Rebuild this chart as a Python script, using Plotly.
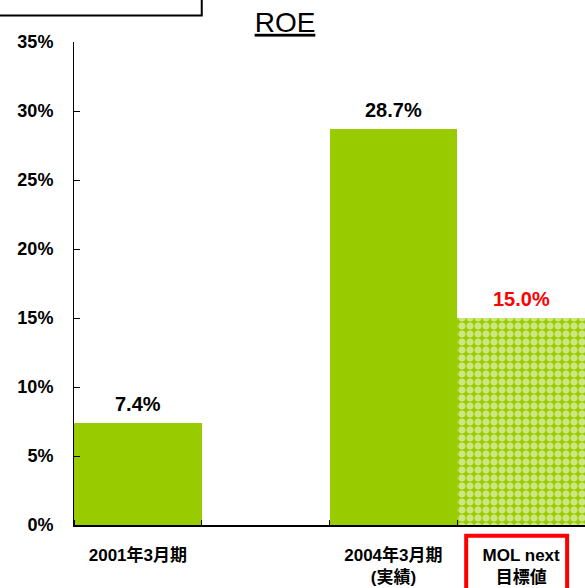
import plotly.graph_objects as go

# Data
categories = ["2001年3月期", "2004年3月期<br>(実績)", "MOL next<br>目標値"]
positions = [0, 2, 3]
roe_values = [7.4, 28.7, 15.0]
label_texts = ["7.4%", "28.7%", "15.0%"]
label_colors = ["black", "black", "#FF0000"]
pattern_shapes = ["", "", "."]
y_ticks = [0, 5, 10, 15, 20, 25, 30, 35]
y_tick_labels = ["0%", "5%", "10%", "15%", "20%", "25%", "30%", "35%"]

GREEN = "#99CC00"
FONT = "Liberation Sans, Arial, Noto Sans CJK JP, sans-serif"

fig = go.Figure()
fig.add_trace(go.Bar(
    x=positions, y=roe_values,
    marker=dict(
        color=GREEN,
        line=dict(width=0),
        pattern=dict(shape=pattern_shapes, fgcolor="white", bgcolor=GREEN,
                     size=8, solidity=0.6),
    ),
    width=1.0,
    hoverinfo="skip",
))

for x, v, t, c in zip(positions, roe_values, label_texts, label_colors):
    fig.add_annotation(x=x, y=v, text=t, showarrow=False, yanchor="bottom",
                       yshift=6, font=dict(family=FONT, size=20, color=c, weight="bold"))

# red box around target label
fig.add_shape(type="rect", xref="x", yref="paper", x0=2.57, x1=3.36,
              y0=-0.15, y1=-0.022, line=dict(color="#FF0000", width=4))
# partially visible box at top-left
fig.add_shape(type="rect", xref="paper", yref="paper", x0=-0.2, x1=0.25,
              y0=1.055, y1=1.2, line=dict(color="black", width=2))

fig.update_layout(
    width=585, height=588,
    margin=dict(l=74, r=0, t=42, b=63),
    plot_bgcolor="white", paper_bgcolor="white",
    showlegend=False, bargap=0,
    title=dict(text="<u>ROE</u>", x=285/585, xanchor="center", y=1 - 22/588,
               yanchor="middle", font=dict(family=FONT, size=28, color="black")),
    font=dict(family=FONT, color="black"),
    xaxis=dict(
        range=[-0.5, 3.5], tickvals=positions, ticktext=categories,
        ticks="", showline=True, linecolor="black", linewidth=1.5,
        showgrid=False, zeroline=False, ticklabelstandoff=14,
        tickfont=dict(family=FONT, size=17, color="black", weight="bold"),
        minor=dict(tick0=0.5, dtick=1, ticks="inside", ticklen=5, tickcolor="black"),
    ),
    yaxis=dict(
        range=[0, 35], tickvals=y_ticks, ticktext=y_tick_labels,
        ticks="inside", ticklen=6, tickcolor="black",
        showline=True, linecolor="black", linewidth=1,
        showgrid=False, zeroline=False, ticklabelstandoff=16,
        tickfont=dict(family=FONT, size=18, color="black", weight="bold"),
    ),
)

fig.write_html("out.html", config={"displayModeBar": False},
               post_script="document.body.style.margin='0';")
